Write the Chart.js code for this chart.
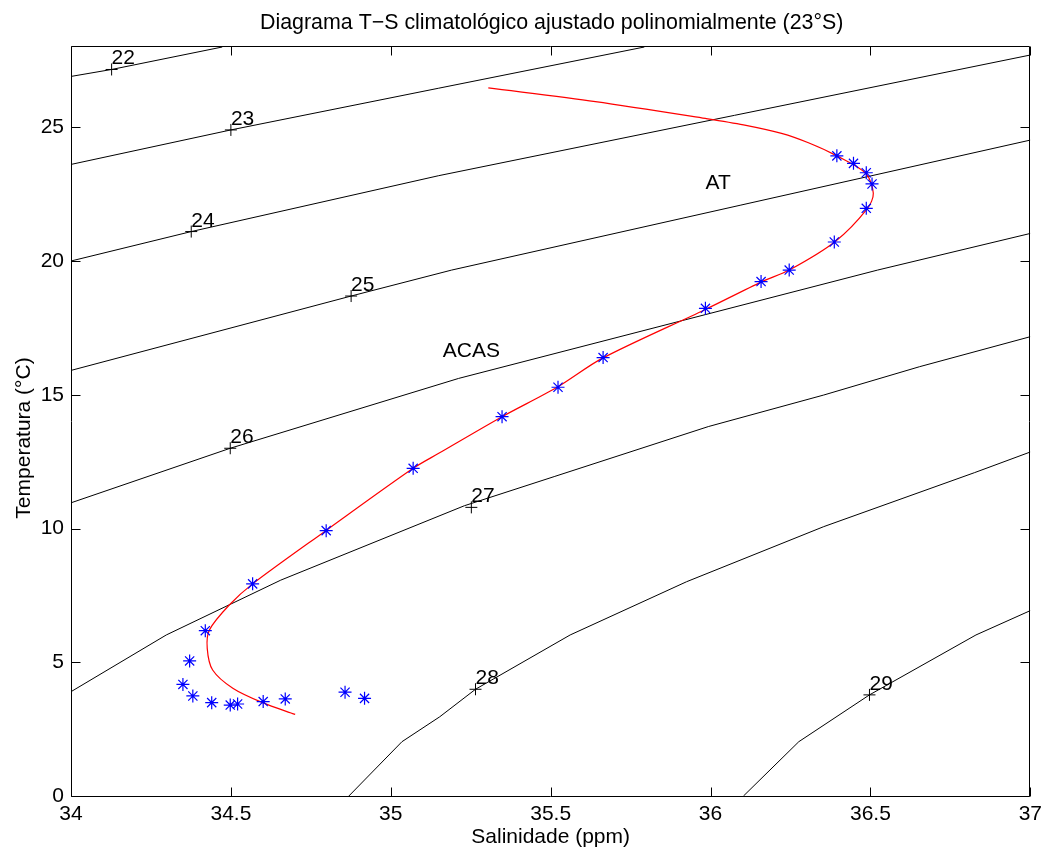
<!DOCTYPE html>
<html><head><meta charset="utf-8">
<script src="https://cdn.jsdelivr.net/npm/chart.js@4/dist/chart.umd.min.js"></script>
<style>html,body{margin:0;padding:0;background:#fff;}canvas{display:block;}</style>
</head><body>
<canvas id="c" width="1048" height="854"></canvas>
<script>
// ---- texts ----
const chartTitle = 'Diagrama T−S climatológico ajustado polinomialmente (23°S)';
const xTitle = 'Salinidade (ppm)';
const yTitle = 'Temperatura (°C)';
const xTicks = [34, 34.5, 35, 35.5, 36, 36.5, 37];
const yTicks = [0, 5, 10, 15, 20, 25];

// ---- sigma-t contours (salinity, temperature) ----
const c22S = [34.0, 34.127, 34.473];
const c22T = [26.90, 27.16, 28.0];
const c23S = [34.0, 34.5, 35.15, 35.793];
const c23T = [23.61, 24.90, 26.46, 28.0];
const c24S = [34.0, 34.376, 35.15, 37.0];
const c24T = [20.00, 21.10, 23.19, 27.70];
const c25S = [34.0, 34.876, 35.19, 37.0];
const c25T = [15.91, 18.69, 19.66, 24.52];
const c26S = [34.0, 34.498, 35.212, 36.522, 37.0];
const c26T = [10.96, 13.00, 15.61, 19.66, 21.03];
const c27S = [34.0, 34.298, 34.656, 35.23, 35.511, 35.993, 36.354, 36.654, 37.0];
const c27T = [3.90, 6.02, 8.07, 10.85, 11.94, 13.81, 14.99, 16.05, 17.17];
const c28S = [34.869, 35.035, 35.153, 35.265, 35.561, 35.925, 36.354, 36.826, 37.0];
const c28T = [0.0, 2.03, 2.96, 3.99, 6.02, 8.01, 10.07, 12.09, 12.86];
const c29S = [36.103, 36.276, 36.497, 36.83, 37.0];
const c29T = [0.0, 2.03, 3.78, 6.02, 6.93];

// ---- contour labels ----
const labelText = ['22', '23', '24', '25', '26', '27', '28', '29'];
const labelS = [34.127, 34.5, 34.376, 34.876, 34.498, 35.252, 35.265, 36.497];
const labelT = [27.16, 24.90, 21.10, 18.69, 13.00, 10.79, 3.99, 3.78];

// ---- water masses ----
const waterText = ['AT', 'ACAS'];
const waterS = [36.024, 35.252];
const waterT = [22.92, 16.61];

// ---- observed climatological points ----
const obsS = [36.395, 36.447, 36.487, 36.505, 36.487, 36.387, 36.246, 36.158, 35.984, 35.664,
              35.523, 35.348, 35.07, 34.798, 34.568, 34.42, 34.371, 34.35, 34.381, 34.44,
              34.498, 34.521, 34.601, 34.67, 34.857, 34.918];
const obsT = [23.93, 23.65, 23.30, 22.88, 21.97, 20.71, 19.66, 19.23, 18.23, 16.39,
              15.28, 14.18, 12.25, 9.92, 7.93, 6.18, 5.05, 4.17, 3.74, 3.49,
              3.40, 3.44, 3.53, 3.63, 3.88, 3.65];

// ---- polynomial fit ----
const fitS = [35.305, 35.64, 35.984, 36.103, 36.222, 36.308, 36.395, 36.485, 36.509, 36.491, 36.389, 36.246,
              36.161, 35.984, 35.661, 35.52, 35.348, 35.15, 35.07, 34.797, 34.568,
              34.495, 34.433, 34.426, 34.443, 34.506, 34.599, 34.701];
const fitT = [26.47, 25.96, 25.33, 25.09, 24.77, 24.41, 23.93, 23.28, 22.53, 21.97, 20.72, 19.66,
              19.23, 18.19, 16.36, 15.28, 14.18, 12.81, 12.25, 9.92, 7.93,
              7.14, 6.21, 5.52, 4.71, 4.03, 3.49, 3.05];

const contoursS = [c22S, c23S, c24S, c25S, c26S, c27S, c28S, c29S];
const contoursT = [c22T, c23T, c24T, c25T, c26T, c27T, c28T, c29T];

const FAMILY = '"Liberation Sans", Arial, Helvetica, sans-serif';
const FSIZE = 21;
const pts = (S, T) => S.map((s, i) => ({x: s, y: T[i]}));

const datasets = [];
datasets.push({label: 'obs', data: pts(obsS, obsT), showLine: false, pointStyle: 'star',
  pointRadius: 6.5, pointBorderWidth: 1.2, borderColor: '#0000ff', backgroundColor: '#0000ff'});
datasets.push({label: 'fit', data: pts(fitS, fitT), showLine: true, borderColor: '#ff0000',
  borderWidth: 1.2, pointRadius: 0, tension: 0.3, fill: false});
contoursS.forEach((S, k) => datasets.push({label: 'c' + labelText[k], data: pts(S, contoursT[k]),
  showLine: true, borderColor: '#000', borderWidth: 1, pointRadius: 0, tension: 0, fill: false}));
datasets.push({label: 'marks', data: pts(labelS, labelT), showLine: false, pointStyle: 'cross',
  pointRadius: 6, pointBorderWidth: 1, borderColor: '#000', backgroundColor: '#000'});

const decor = {
  id: 'decor',
  afterDraw(chart) {
    const {ctx, chartArea: a, scales: {x, y}} = chart;
    ctx.save();
    ctx.fillStyle = '#000';
    ctx.strokeStyle = '#000';
    ctx.font = FSIZE + 'px ' + FAMILY;
    // contour labels
    ctx.textAlign = 'left'; ctx.textBaseline = 'alphabetic';
    labelText.forEach((t, i) => ctx.fillText(t, x.getPixelForValue(labelS[i]), y.getPixelForValue(labelT[i]) - 5));
    // water masses
    ctx.textAlign = 'center'; ctx.textBaseline = 'middle';
    waterText.forEach((t, i) => ctx.fillText(t, x.getPixelForValue(waterS[i]), y.getPixelForValue(waterT[i])));
    // box
    ctx.lineWidth = 1;
    const L = Math.round(a.left) + 0.5, R = Math.round(a.right) - 0.5;
    const T = Math.round(a.top) - 0.5, B = Math.round(a.bottom) + 0.5;
    ctx.beginPath();
    ctx.rect(L, T, R - L, B - T);
    ctx.stroke();
    // inward ticks
    const tl = 9;
    ctx.beginPath();
    xTicks.forEach(v => {
      const px = Math.round(x.getPixelForValue(v)) + 0.5;
      ctx.moveTo(px, B); ctx.lineTo(px, B - tl);
      ctx.moveTo(px, T); ctx.lineTo(px, T + tl);
    });
    yTicks.forEach(v => {
      const py = Math.round(y.getPixelForValue(v)) + 0.5;
      ctx.moveTo(L, py); ctx.lineTo(L + tl, py);
      ctx.moveTo(R, py); ctx.lineTo(R - tl, py);
    });
    ctx.stroke();
    // titles
    const cx = (a.left + a.right) / 2;
    ctx.textAlign = 'center'; ctx.textBaseline = 'alphabetic';
    ctx.fillText(xTitle, cx, 843);
    ctx.save();
    ctx.translate(30, 438);
    ctx.rotate(-Math.PI / 2);
    ctx.fillText(yTitle, 0, 0);
    ctx.restore();
    ctx.font = '21.4px ' + FAMILY;
    ctx.fillText(chartTitle, cx + 1, 29);
    ctx.restore();
  }
};

new Chart(document.getElementById('c'), {
  type: 'scatter',
  data: {datasets},
  options: {
    responsive: false,
    animation: false,
    devicePixelRatio: 1,
    layout: {padding: {top: 47, right: 15, bottom: 0, left: 0}},
    plugins: {legend: {display: false}, tooltip: {enabled: false}, title: {display: false}},
    scales: {
      x: {
        type: 'linear', min: 34, max: 37,
        afterBuildTicks: s => { s.ticks = xTicks.map(v => ({value: v})); },
        afterFit: s => { s.height = 58; },
        grid: {display: false, drawTicks: false},
        border: {display: false},
        ticks: {color: '#000', font: {family: FAMILY, size: FSIZE}, padding: 6,
                maxRotation: 0, autoSkip: false, callback: v => String(v)}
      },
      y: {
        type: 'linear', min: 0, max: 28,
        afterBuildTicks: s => { s.ticks = yTicks.map(v => ({value: v})); },
        afterFit: s => { s.width = 71; },
        grid: {display: false, drawTicks: false},
        border: {display: false},
        ticks: {color: '#000', font: {family: FAMILY, size: FSIZE}, padding: 7,
                autoSkip: false, callback: v => String(v)}
      }
    }
  },
  plugins: [decor]
});
</script>
</body></html>
